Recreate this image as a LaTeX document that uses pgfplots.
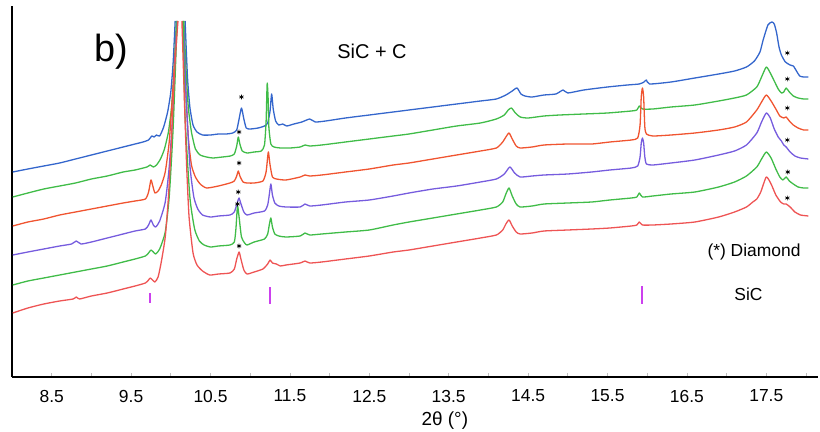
\documentclass[border=0pt]{standalone}
\usepackage{pgfplots}
\pgfplotsset{compat=1.18}
\usepackage{fontspec}
\setmainfont{Liberation Sans}
\definecolor{cblue}{RGB}{52,102,204}
\definecolor{cgreen}{RGB}{64,188,72}
\definecolor{corange}{RGB}{240,84,48}
\definecolor{cpurple}{RGB}{118,92,222}
\definecolor{cred}{RGB}{238,84,84}
\definecolor{cmag}{RGB}{204,64,238}
\begin{document}
\begin{tikzpicture}
\useasboundingbox (-12bp,-55bp) rectangle (808bp,377bp);
\begin{axis}[
  at={(0,0)}, anchor=south west,
  scale only axis, width=806bp, height=371bp,
  xmin=8, xmax=18.151, ymin=0, ymax=371,
  axis lines*=left,
  axis line style={black, line width=1.2bp},
  ytick=\empty,
  xtick={8.5,9.5,10.5,11.5,12.5,13.5,14.5,15.5,16.5,17.5},
  minor xtick={9,10,11,12,13,14,15,16,17,18},
  tick align=inside,
  major tick length=4bp, minor tick length=4bp,
  tick style={gray!50, line width=0.8bp},
  xticklabel style={font=\fontsize{17.5}{20}\selectfont, anchor=center, yshift=-19bp},
  /pgf/number format/.cd, fixed, precision=1, fixed zerofill, assume math mode=true, /pgfplots/.cd,
  xlabel={2θ (°)},
  xlabel style={font=\fontsize{19}{22}\selectfont, at={(axis description cs:0.537,0)}, anchor=center, yshift=-44bp},
  clip=false,
  unbounded coords=jump,
  every axis plot/.append style={line width=1.3bp, line join=round},
  curve/.style={smooth, tension=0.35},
]
% blue
\addplot[cblue, curve] coordinates {(8.01,205) (8.2,208) (8.4,211) (8.6,214) (8.8,218) (9.0,222) (9.2,226) (9.4,230) (9.55,233) (9.65,235) (9.72,237) (9.76,241) (9.79,240) (9.82,242) (9.86,241) (9.91,250) (9.96,265) (10.0,285) (10.03,315) (10.055,356) (10.1,nan) (10.18,356) (10.21,300) (10.24,270) (10.28,252) (10.33,245) (10.4,242) (10.5,242) (10.6,243) (10.7,243) (10.78,244) (10.83,247) (10.86,258) (10.89,269) (10.92,258) (10.95,249) (11.0,248) (11.1,249) (11.18,251) (11.22,254) (11.25,266) (11.27,283) (11.29,268) (11.32,256) (11.36,252) (11.41,253) (11.46,251) (11.55,253) (11.65,255) (11.75,258) (11.82,255) (11.95,256) (12.2,259) (12.5,262) (12.8,265) (13.0,267) (13.3,270) (13.6,273) (13.9,276) (14.1,278) (14.22,282) (14.3,286) (14.36,289) (14.41,283) (14.46,281) (14.55,280) (14.7,282) (14.85,283) (14.94,287) (15.0,284) (15.2,287) (15.5,290) (15.75,292) (15.9,293) (15.96,295) (15.99,297) (16.03,293) (16.3,295) (16.6,299) (16.9,303) (17.1,306) (17.25,310) (17.35,316) (17.42,325) (17.46,337) (17.52,352) (17.57,355) (17.6,353) (17.63,344) (17.66,330) (17.69,322) (17.74,315) (17.8,312) (17.84,311) (17.88,306) (17.92,301) (17.97,300) (18.03,300)};
% green 1
\addplot[cgreen, curve] coordinates {(8.01,180) (8.2,184) (8.4,188) (8.6,191) (8.8,194) (9.0,198) (9.2,201) (9.4,205) (9.55,207) (9.70,210) (9.74,212) (9.78,210) (9.82,212) (9.87,218) (9.92,228) (9.97,245) (10.01,270) (10.04,305) (10.07,356) (10.1,nan) (10.165,356) (10.19,310) (10.22,270) (10.26,245) (10.31,228) (10.37,222) (10.45,220) (10.53,219) (10.65,220) (10.75,221) (10.80,223) (10.83,231) (10.85,240) (10.87,233) (10.90,226) (10.96,224) (11.05,225) (11.14,226) (11.18,232) (11.2,255) (11.21,285) (11.215,294) (11.225,280) (11.235,250) (11.26,233) (11.3,230) (11.38,229) (11.5,229) (11.63,230) (11.69,232) (11.75,231) (11.9,232) (12.2,235) (12.5,238) (12.8,241) (13.0,243) (13.3,247) (13.6,251) (13.9,254) (14.1,258) (14.2,262) (14.25,267) (14.29,269) (14.34,264) (14.4,260) (14.5,259) (14.7,261) (14.9,262) (15.2,263) (15.5,264) (15.8,266) (15.87,267) (15.9,271) (15.94,268) (16.07,268) (16.3,270) (16.6,272) (16.9,276) (17.1,279) (17.25,282) (17.38,290) (17.44,300) (17.5,310) (17.55,304) (17.6,296) (17.65,288) (17.69,284) (17.72,285) (17.75,289) (17.79,285) (17.84,281) (17.9,279) (17.97,278) (18.03,278)};
% orange
\addplot[corange, curve] coordinates {(8.01,151) (8.2,155) (8.4,158) (8.6,162) (8.8,165) (9.0,168) (9.2,171) (9.4,174) (9.55,176) (9.68,178) (9.72,185) (9.75,197) (9.77,192) (9.80,184) (9.84,186) (9.88,192) (9.93,205) (9.98,235) (10.02,280) (10.06,330) (10.085,356) (10.1,nan) (10.15,356) (10.18,300) (10.22,240) (10.26,212) (10.31,200) (10.37,193) (10.45,189) (10.6,191) (10.745,194) (10.8,196) (10.83,201) (10.85,206) (10.87,201) (10.91,195) (10.96,194) (11.05,194) (11.16,196) (11.2,205) (11.22,220) (11.23,225) (11.25,212) (11.28,200) (11.33,198) (11.45,197) (11.63,200) (11.69,202) (11.75,201) (11.9,202) (12.2,205) (12.5,208) (12.8,212) (13.0,214) (13.3,218) (13.6,222) (13.9,226) (14.1,229) (14.18,235) (14.22,240) (14.26,244) (14.3,238) (14.35,231) (14.4,229) (14.55,230) (14.7,232) (15.0,233) (15.3,233) (15.53,235) (15.8,237) (15.88,239) (15.91,252) (15.925,280) (15.94,289) (15.955,280) (15.97,250) (15.99,243) (16.07,241) (16.3,242) (16.6,244) (16.9,247) (17.1,250) (17.25,255) (17.38,267) (17.44,275) (17.5,282) (17.56,276) (17.62,268) (17.67,261) (17.72,259) (17.75,260) (17.79,256) (17.84,252) (17.9,249) (17.97,247) (18.03,247)};
% purple
\addplot[cpurple, curve] coordinates {(8.01,122) (8.2,125) (8.4,128) (8.6,131) (8.75,133) (8.81,136) (8.87,133) (9.0,135) (9.2,139) (9.4,143) (9.55,146) (9.68,148) (9.72,152) (9.75,157) (9.78,152) (9.81,150) (9.86,156) (9.93,175) (9.98,210) (10.03,270) (10.075,356) (10.1,nan) (10.16,356) (10.19,285) (10.24,212) (10.29,180) (10.34,168) (10.40,162) (10.5,160) (10.6,161) (10.745,162) (10.8,165) (10.84,175) (10.86,179) (10.88,174) (10.92,165) (10.96,162) (11.05,164) (11.18,166) (11.22,172) (11.24,182) (11.26,193) (11.28,182) (11.31,174) (11.36,171) (11.45,170) (11.63,170) (11.69,173) (11.75,171) (11.9,172) (12.2,175) (12.5,177) (12.8,181) (13.0,184) (13.3,188) (13.6,191) (13.9,195) (14.1,198) (14.2,203) (14.27,210) (14.33,204) (14.4,200) (14.55,201) (14.7,202) (15.0,203) (15.3,205) (15.53,207) (15.8,209) (15.88,211) (15.91,220) (15.925,234) (15.94,239) (15.955,234) (15.97,220) (15.99,213) (16.07,212) (16.3,214) (16.6,217) (16.9,222) (17.1,226) (17.25,232) (17.38,244) (17.44,255) (17.5,264) (17.55,259) (17.6,248) (17.65,240) (17.69,236) (17.72,232) (17.75,230) (17.8,225) (17.86,221) (17.93,219) (18.03,218)};
% green 2
\addplot[cgreen, curve] coordinates {(8.01,92) (8.2,96) (8.4,99) (8.6,102) (8.8,105) (9.0,108) (9.2,111) (9.4,115) (9.55,118) (9.68,121) (9.72,124) (9.75,127) (9.78,125) (9.81,123) (9.86,128) (9.93,145) (9.98,180) (10.03,250) (10.08,356) (10.1,nan) (10.155,356) (10.18,260) (10.24,180) (10.3,148) (10.36,136) (10.42,132) (10.5,130) (10.6,131) (10.745,132) (10.8,135) (10.82,148) (10.84,171) (10.86,160) (10.89,140) (10.93,134) (10.96,132) (11.05,135) (11.18,138) (11.22,143) (11.24,152) (11.26,159) (11.28,150) (11.31,143) (11.36,141) (11.45,140) (11.63,141) (11.69,144) (11.75,142) (11.9,143) (12.2,145) (12.5,147) (12.8,152) (13.0,155) (13.3,159) (13.6,163) (13.9,167) (14.1,170) (14.18,175) (14.22,183) (14.26,189) (14.3,181) (14.35,173) (14.4,170) (14.55,171) (14.7,173) (15.0,174) (15.3,175) (15.53,177) (15.8,179) (15.87,180) (15.9,184) (15.94,180) (16.07,181) (16.3,183) (16.6,185) (16.9,190) (17.1,195) (17.25,201) (17.38,210) (17.44,218) (17.5,225) (17.56,219) (17.62,208) (17.67,200) (17.71,197) (17.75,200) (17.79,196) (17.84,193) (17.9,190) (17.97,189) (18.03,189)};
% red
\addplot[cred, curve] coordinates {(8.01,64) (8.2,69) (8.4,73) (8.6,76) (8.77,78) (8.81,80) (8.85,78) (9.0,81) (9.2,84) (9.4,88) (9.55,91) (9.68,94) (9.72,97) (9.74,99) (9.77,97) (9.80,95) (9.84,100) (9.88,115) (9.93,140) (9.97,180) (10.01,240) (10.05,310) (10.09,356) (10.1,nan) (10.14,356) (10.17,280) (10.20,210) (10.23,160) (10.28,124) (10.33,112) (10.4,106) (10.49,102) (10.6,103) (10.745,104) (10.8,108) (10.83,118) (10.86,125) (10.88,119) (10.92,107) (10.96,103) (11.05,105) (11.16,108) (11.22,113) (11.25,117) (11.28,114) (11.33,113) (11.38,111) (11.45,112) (11.63,114) (11.69,116) (11.75,114) (11.9,115) (12.2,118) (12.5,121) (12.8,125) (13.0,127) (13.3,131) (13.6,135) (13.9,139) (14.1,142) (14.18,147) (14.22,153) (14.26,157) (14.3,151) (14.35,145) (14.4,143) (14.55,144) (14.7,146) (15.0,147) (15.3,148) (15.53,149) (15.8,151) (15.87,152) (15.9,155) (15.94,152) (16.07,152) (16.3,153) (16.6,155) (16.9,160) (17.1,165) (17.25,170) (17.33,175) (17.38,178) (17.43,185) (17.5,200) (17.56,193) (17.62,182) (17.68,175) (17.72,173) (17.75,173) (17.8,170) (17.86,165) (17.93,162) (18.03,161)};
% SiC reference ticks
\addplot[cmag, line width=2bp] coordinates {(9.74,74) (9.74,84) (10,nan) (11.25,73) (11.25,90) (13,nan) (15.94,73) (15.94,91)};
% diamond asterisks
\addplot[only marks, mark=asterisk, mark size=2.4bp, black, mark options={line width=0.7bp}] coordinates {(10.89,280) (10.86,245) (10.86,214) (10.85,185) (10.84,173) (10.86,131) (17.765,324) (17.765,298) (17.765,269) (17.765,237) (17.77,205) (17.765,179)};
\node[font=\fontsize{38}{40}\selectfont] at (axis cs:9.247,325) {b)};
\node[font=\fontsize{20}{24}\selectfont] at (axis cs:12.534,326) {SiC + C};
\node[font=\fontsize{17.5}{20}\selectfont] at (axis cs:17.345,125) {(*) Diamond};
\node[font=\fontsize{17.5}{20}\selectfont] at (axis cs:17.276,82.5) {SiC};
\end{axis}
\end{tikzpicture}
\end{document}
